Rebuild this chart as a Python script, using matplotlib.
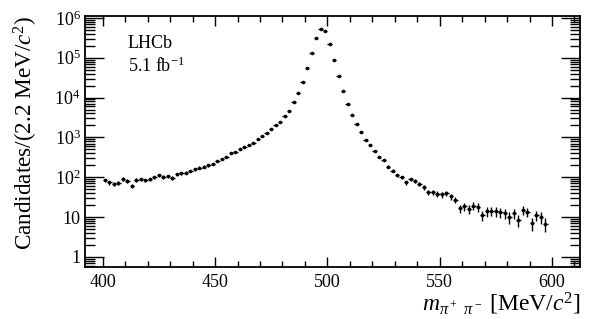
import numpy as np
import matplotlib
matplotlib.use("Agg")
import matplotlib.pyplot as plt
from matplotlib.ticker import FixedLocator, FixedFormatter, MultipleLocator

plt.rcParams['font.family'] = ['Liberation Serif', 'DejaVu Serif']
plt.rcParams['mathtext.fontset'] = 'custom'
plt.rcParams['mathtext.rm'] = 'Liberation Serif'
plt.rcParams['mathtext.it'] = 'Liberation Serif:italic'

# bin centres [MeV/c^2] and log10(candidates)
mass = np.arange(401, 598, 2)
log_counts = [
    1.92, 1.87, 1.84, 1.86, 1.96, 1.90, 1.78, 1.93, 1.95, 1.92,
    1.95, 2.00, 2.05, 2.01, 2.02, 1.98, 2.08, 2.10, 2.11, 2.16,
    2.20, 2.24, 2.27, 2.30, 2.34, 2.40, 2.45, 2.52, 2.60, 2.63,
    2.70, 2.76, 2.82, 2.87, 2.95, 3.03, 3.12, 3.20, 3.30, 3.40,
    3.53, 3.67, 3.88, 4.12, 4.40, 4.75, 5.12, 5.50, 5.72, 5.68,
    5.35, 4.95, 4.55, 4.17, 3.85, 3.57, 3.33, 3.13, 2.93, 2.80,
    2.67, 2.52, 2.43, 2.27, 2.17, 2.05, 2.00, 1.87, 1.95, 1.90,
    1.84, 1.75, 1.63, 1.62, 1.58, 1.57, 1.60, 1.52, 1.44, 1.22,
    1.27, 1.20, 1.28, 1.25, 1.05, 1.15, 1.16, 1.15, 1.12, 1.10,
    1.00, 1.10, 0.93, 1.18, 1.13, 0.85, 1.05, 1.00, 0.84,
]
counts = 10 ** np.array(log_counts)
errors = np.sqrt(counts)

y_ticks = [1, 10, 100, 1e3, 1e4, 1e5, 1e6]
y_tick_labels = ['1', '10', '$10^2$', '$10^3$', '$10^4$', '$10^5$', '$10^6$']

fig = plt.figure(figsize=(6.1, 3.19), dpi=100)
ax = fig.add_axes([0.139, 0.163, 0.812, 0.787])

ax.errorbar(mass, counts, xerr=1.0, yerr=errors, fmt='o', color='black',
            markersize=1.6, elinewidth=1.0, capsize=0)

ax.set_yscale('log')
ax.set_xlim(392, 612.5)
ax.set_ylim(0.56, 1.12e6)

ax.xaxis.set_major_locator(MultipleLocator(50))
ax.xaxis.set_minor_locator(MultipleLocator(10))
ax.yaxis.set_major_locator(FixedLocator(y_ticks))
ax.yaxis.set_major_formatter(FixedFormatter(y_tick_labels))
minor = [m * 10 ** d for d in range(-1, 6) for m in range(2, 10)]
ax.yaxis.set_minor_locator(FixedLocator(minor))

ax.tick_params(which='both', direction='in', top=True, right=True, width=1.0,
               labelsize=13)
ax.tick_params(axis='x', which='major', length=7, pad=5)
ax.tick_params(axis='x', which='minor', length=4)
ax.tick_params(axis='y', which='major', length=14, pad=3)
ax.tick_params(axis='y', which='minor', length=7)
for s in ax.spines.values():
    s.set_linewidth(1.3)

ax.set_xlabel(r'$m_{\pi^+\;\,\pi^-}$ [MeV/$c^2$]', fontsize=17, loc='right',
              labelpad=0)
ax.set_ylabel(r'Candidates/(2.2 MeV/$c^2$)', fontsize=16.7, loc='top',
              labelpad=10)

ax.text(0.087, 0.89, 'LHCb', transform=ax.transAxes, fontsize=13,
        va='center', ha='left')
ax.text(0.087, 0.80, r'5.1 fb$^{\mathregular{-1}}$', transform=ax.transAxes,
        fontsize=13, va='center', ha='left')

fig.savefig('out.png', dpi=100)
